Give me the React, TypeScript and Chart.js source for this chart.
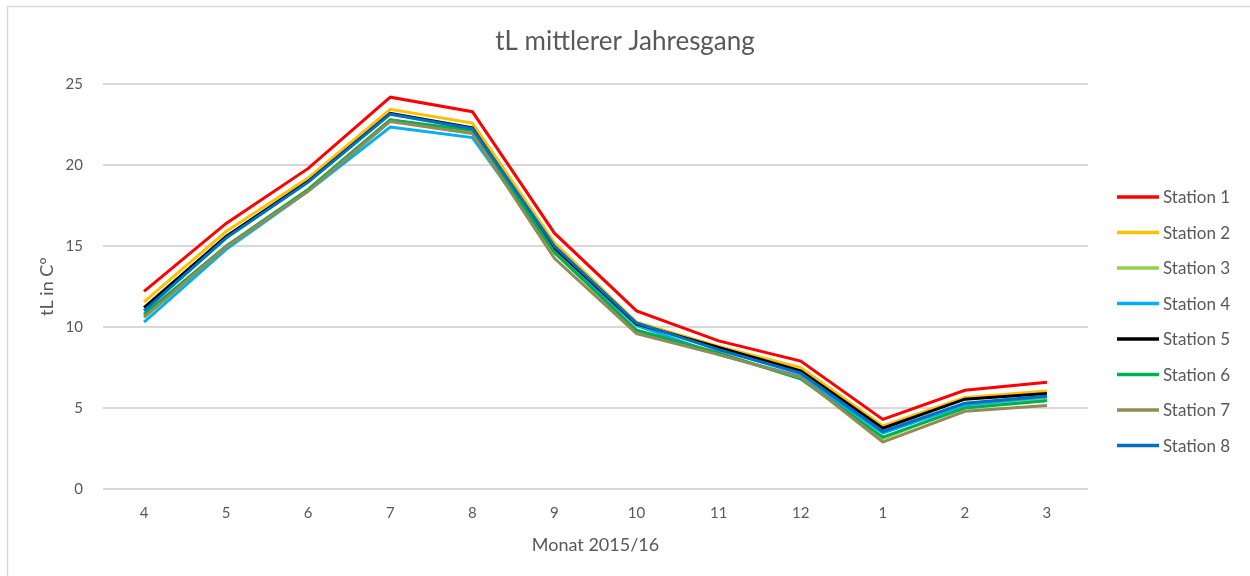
import React, { useEffect, useRef } from "react";
import { Chart, registerables } from "chart.js";

Chart.register(...registerables);

const months = ["4", "5", "6", "7", "8", "9", "10", "11", "12", "1", "2", "3"];
const stationNames = ["Station 1", "Station 2", "Station 3", "Station 4", "Station 5", "Station 6", "Station 7", "Station 8"];
const stationColors = ["#ff0000", "#ffc000", "#92d050", "#00b0f0", "#000000", "#00b050", "#948a54", "#0070c0"];

const station1 = [12.2, 16.4, 19.8, 24.2, 23.3, 15.8, 11.0, 9.15, 7.9, 4.3, 6.1, 6.6];
const station2 = [11.55, 15.9, 19.2, 23.45, 22.6, 15.2, 10.3, 8.8, 7.5, 3.9, 5.65, 6.05];
const station3 = [10.7, 15.0, 18.5, 22.8, 22.0, 14.6, 9.8, 8.4, 6.8, 3.1, 5.1, 5.6];
const station4 = [10.3, 14.8, 18.4, 22.35, 21.7, 14.7, 10.1, 8.3, 6.95, 3.45, 5.2, 5.7];
const station5 = [11.2, 15.6, 19.0, 23.2, 22.3, 14.9, 10.2, 8.75, 7.3, 3.75, 5.55, 5.9];
const station6 = [10.8, 15.0, 18.5, 22.8, 22.15, 14.6, 9.8, 8.4, 6.8, 3.2, 5.0, 5.45];
const station7 = [10.6, 14.95, 18.4, 22.7, 21.95, 14.25, 9.6, 8.3, 6.9, 2.9, 4.8, 5.15];
const station8 = [11.0, 15.5, 18.95, 23.15, 22.25, 15.0, 10.25, 8.6, 7.15, 3.55, 5.3, 5.75];

const stationValues = [station1, station2, station3, station4, station5, station6, station7, station8];

const FONT = "Lato, 'Open Sans', sans-serif";
const TEXT = "#595959";
const GRID = "#d9d9d9";

const frame = {
  id: "frame",
  beforeDraw(chart: any) {
    const { ctx, width, height } = chart;
    ctx.save();
    ctx.fillStyle = "#ffffff";
    ctx.fillRect(0, 0, width, height);
    ctx.strokeStyle = GRID;
    ctx.lineWidth = 1.5;
    ctx.strokeRect(7.5, 6.5, width + 20, height + 20);
    ctx.restore();
  },
};

const sideLegend = {
  id: "sideLegend",
  afterDraw(chart: any) {
    const { ctx } = chart;
    const right = chart.chartArea.right;
    ctx.save();
    ctx.font = `17px ${FONT}`;
    ctx.textBaseline = "middle";
    ctx.textAlign = "left";
    chart.data.datasets.forEach((ds: any, i: number) => {
      const y = 197 + i * 35.5;
      const x0 = right + 29;
      ctx.strokeStyle = ds.borderColor;
      ctx.lineWidth = 3.5;
      ctx.beginPath();
      ctx.moveTo(x0, y);
      ctx.lineTo(x0 + 42, y);
      ctx.stroke();
      ctx.fillStyle = TEXT;
      ctx.fillText(ds.label, x0 + 46, y + 1);
    });
    ctx.restore();
  },
};

export default function App() {
  const ref = useRef<HTMLCanvasElement | null>(null);

  useEffect(() => {
    if (!ref.current) return;
    const chart = new Chart(ref.current, {
      type: "line",
      data: {
        labels: months,
        datasets: stationNames.map((name, i) => ({
          label: name,
          data: stationValues[i],
          borderColor: stationColors[i],
          backgroundColor: stationColors[i],
          borderWidth: 3,
          pointRadius: 0,
          tension: 0,
          order: stationNames.length - i,
        })),
      },
      options: {
        responsive: false,
        animation: false,
        devicePixelRatio: 1,
        layout: { padding: 0 },
        plugins: {
          legend: { display: false },
          tooltip: { enabled: false },
          title: {
            display: true,
            text: "tL mittlerer Jahresgang",
            color: TEXT,
            font: { family: FONT, size: 26, weight: "normal" },
            padding: { top: 26, bottom: 27 },
          },
        },
        scales: {
          x: {
            offset: true,
            grid: { display: false, drawTicks: false },
            border: { display: false },
            ticks: { color: TEXT, font: { family: FONT, size: 15 }, padding: 15, maxRotation: 0 },
            title: {
              display: true,
              text: "Monat 2015/16",
              color: TEXT,
              font: { family: FONT, size: 18 },
              padding: { top: 0, bottom: 20 },
            },
            afterFit(scale: any) {
              scale.height = 87;
            },
          },
          y: {
            min: 0,
            max: 25,
            ticks: { stepSize: 5, color: TEXT, font: { family: FONT, size: 15 }, padding: 20 },
            grid: { color: GRID, lineWidth: 2, drawTicks: false },
            border: { display: false },
            title: {
              display: true,
              text: "tL in C°",
              color: TEXT,
              font: { family: FONT, size: 18 },
              padding: { top: 36, bottom: 0 },
            },
            afterFit(scale: any) {
              scale.width = 103;
            },
          },
          legendSpace: {
            type: "linear",
            position: "right",
            display: true,
            grid: { display: false, drawTicks: false },
            border: { display: false },
            ticks: { display: false },
            afterFit(scale: any) {
              scale.width = 162;
            },
          },
        },
      },
      plugins: [frame, sideLegend],
    });
    return () => chart.destroy();
  }, []);

  return (
    <div style={{ position: "absolute", left: 0, top: 0, width: 1250, height: 576 }}>
      <canvas ref={ref} width={1250} height={576} />
    </div>
  );
}
